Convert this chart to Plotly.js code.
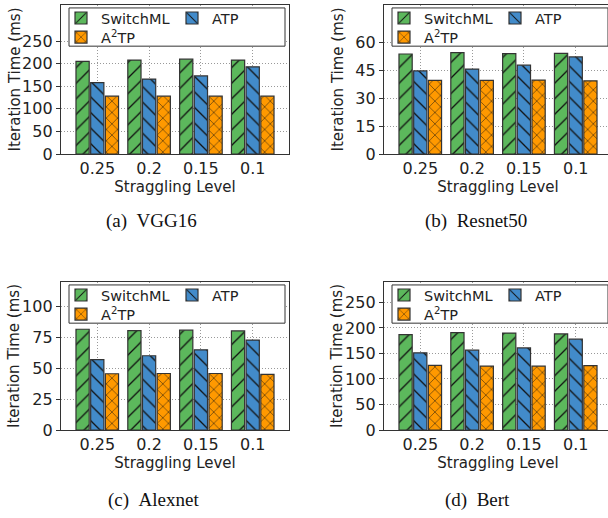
<!DOCTYPE html>
<html>
<head>
<meta charset="utf-8">
<script src="https://cdn.plot.ly/plotly-3.0.1.min.js"></script>
<style>
html,body{margin:0;padding:0;width:608px;height:518px;overflow:hidden;background:#fff;}
.p{position:absolute;width:304px;height:277px;}
</style>
</head>
<body>
<div id="pa" class="p" style="left:0;top:0"></div>
<div id="pb" class="p" style="left:323px;top:0"></div>
<div id="pc" class="p" style="left:0;top:277px"></div>
<div id="pd" class="p" style="left:323px;top:277px"></div>
<script>
// ---- data ----
var categories = ['0.25', '0.2', '0.15', '0.1'];
var seriesNames = ['SwitchML', 'ATP', 'A<sup>2</sup>TP'];

var vggSwitchML = [205, 208, 210, 208];
var vggATP      = [158, 166, 173, 193];
var vggA2TP     = [128, 128, 128, 128];

var resnetSwitchML = [53.7, 54.4, 53.9, 54.0];
var resnetATP      = [44.6, 45.6, 47.7, 52.1];
var resnetA2TP     = [39.5, 39.5, 39.7, 39.3];

var alexSwitchML = [81.7, 80.6, 80.9, 80.3];
var alexATP      = [57.0, 60.2, 65.0, 72.9];
var alexA2TP     = [45.6, 45.8, 45.8, 45.1];

var bertSwitchML = [187, 190.8, 190, 188.2];
var bertATP      = [151.3, 156.5, 160.9, 178];
var bertA2TP     = [126.5, 125.2, 125, 126];

var vggTicks    = [0, 50, 100, 150, 200, 250];
var resnetTicks = [0, 15, 30, 45, 60];
var alexTicks   = [0, 25, 50, 75, 100];
var bertTicks   = [0, 50, 100, 150, 200, 250];

var yTitle = 'Iteration Time (ms)';
var xTitle = 'Straggling Level';
var captions = ['(a)\u00a0\u00a0VGG16', '(b)\u00a0\u00a0Resnet50', '(c)\u00a0\u00a0Alexnet', '(d)\u00a0\u00a0Bert'];

// ---- styles ----
var colors = ['#5cb85c', '#428bca', '#ff9900'];
var shapes = ['/', '\\', 'x'];
var psize = [11, 11, 8];
var legendOf = ['legend', 'legend', 'legend2'];
var font = 'DejaVu Sans, sans-serif';
var TOP = 2, PL = 61, PW = 228;

function makeTraces(vals) {
  return vals.map(function (v, i) {
    return {
      type: 'bar', x: categories, y: v, name: seriesNames[i], legend: legendOf[i],
      marker: {
        color: colors[i],
        line: {color: '#333', width: 1.2},
        pattern: {shape: shapes[i], size: psize[i], solidity: 0.12, fgcolor: '#111', bgcolor: colors[i], fillmode: 'replace'}
      }
    };
  });
}

function py(h, p) { return 1 - (p - TOP) / h; }
function px(p) { return (p - PL) / PW; }

function makeLayout(range, ticks, caption, capx, capy, h) {
  var leg = {
    orientation: 'h', x: 0, xanchor: 'left', yanchor: 'top',
    bgcolor: 'rgba(0,0,0,0)', borderwidth: 0,
    entrywidth: 66, entrywidthmode: 'pixels',
    font: {family: font, size: 14.5, color: '#222'}, traceorder: 'normal'
  };
  return {
    width: 304, height: 277,
    margin: {l: PL, r: 304 - PL - PW, t: TOP, b: 277 - TOP - h},
    paper_bgcolor: '#fff', plot_bgcolor: '#fff',
    font: {family: font, size: 15, color: '#222'},
    barmode: 'group', bargap: 0.15, bargroupgap: 0.1,
    showlegend: true,
    legend: Object.assign({}, leg, {y: py(h, -1)}),
    legend2: Object.assign({}, leg, {y: py(h, 18.5)}),
    xaxis: {
      type: 'category', range: [-0.7, 3.7], fixedrange: true,
      showgrid: true, gridcolor: '#999', griddash: '1px,2px', gridwidth: 1,
      showline: true, linecolor: '#333', linewidth: 1.2, mirror: true,
      ticks: '', tickfont: {family: font, size: 16, color: '#222'},
      title: {text: xTitle, font: {family: font, size: 15, color: '#222'}, standoff: 2}
    },
    yaxis: {
      range: range, tickvals: ticks, ticktext: ticks.map(String), fixedrange: true,
      showgrid: true, gridcolor: '#999', griddash: '1px,2px', gridwidth: 1,
      zeroline: false,
      showline: true, linecolor: '#333', linewidth: 1.2, mirror: true,
      ticks: 'outside', ticklen: 4, tickcolor: '#333',
      tickfont: {family: font, size: 16, color: '#222'}
    },
    shapes: [{
      type: 'rect', xref: 'paper', yref: 'paper', layer: 'above',
      x0: px(69), x1: px(285), y0: py(h, 5), y1: py(h, 44),
      fillcolor: '#fff', line: {color: '#333', width: 1}
    }],
    annotations: [{
      text: yTitle, xref: 'paper', yref: 'paper', x: px(14), y: 0.5, textangle: -90,
      xanchor: 'center', yanchor: 'middle', showarrow: false,
      font: {family: font, size: 15, color: '#222'}
    }, {
      text: caption, xref: 'paper', yref: 'paper', x: capx, y: py(h, capy),
      xanchor: 'center', yanchor: 'middle', showarrow: false,
      font: {family: 'Liberation Serif, serif', size: 19, color: '#111'}
    }]
  };
}

var cfg = {staticPlot: true, displayModeBar: false};

Plotly.newPlot('pa', makeTraces([vggSwitchML, vggATP, vggA2TP]),
  makeLayout([0, 330], vggTicks, captions[0], 0.399, 222, 152), cfg);
Plotly.newPlot('pb', makeTraces([resnetSwitchML, resnetATP, resnetA2TP]),
  makeLayout([0, 80], resnetTicks, captions[1], 0.404, 222, 152), cfg);
Plotly.newPlot('pc', makeTraces([alexSwitchML, alexATP, alexA2TP]),
  makeLayout([0, 120], alexTicks, captions[2], 0.404, 224, 151), cfg);
Plotly.newPlot('pd', makeTraces([bertSwitchML, bertATP, bertA2TP]),
  makeLayout([0, 290], bertTicks, captions[3], 0.408, 224, 151), cfg);
</script>
</body>
</html>
